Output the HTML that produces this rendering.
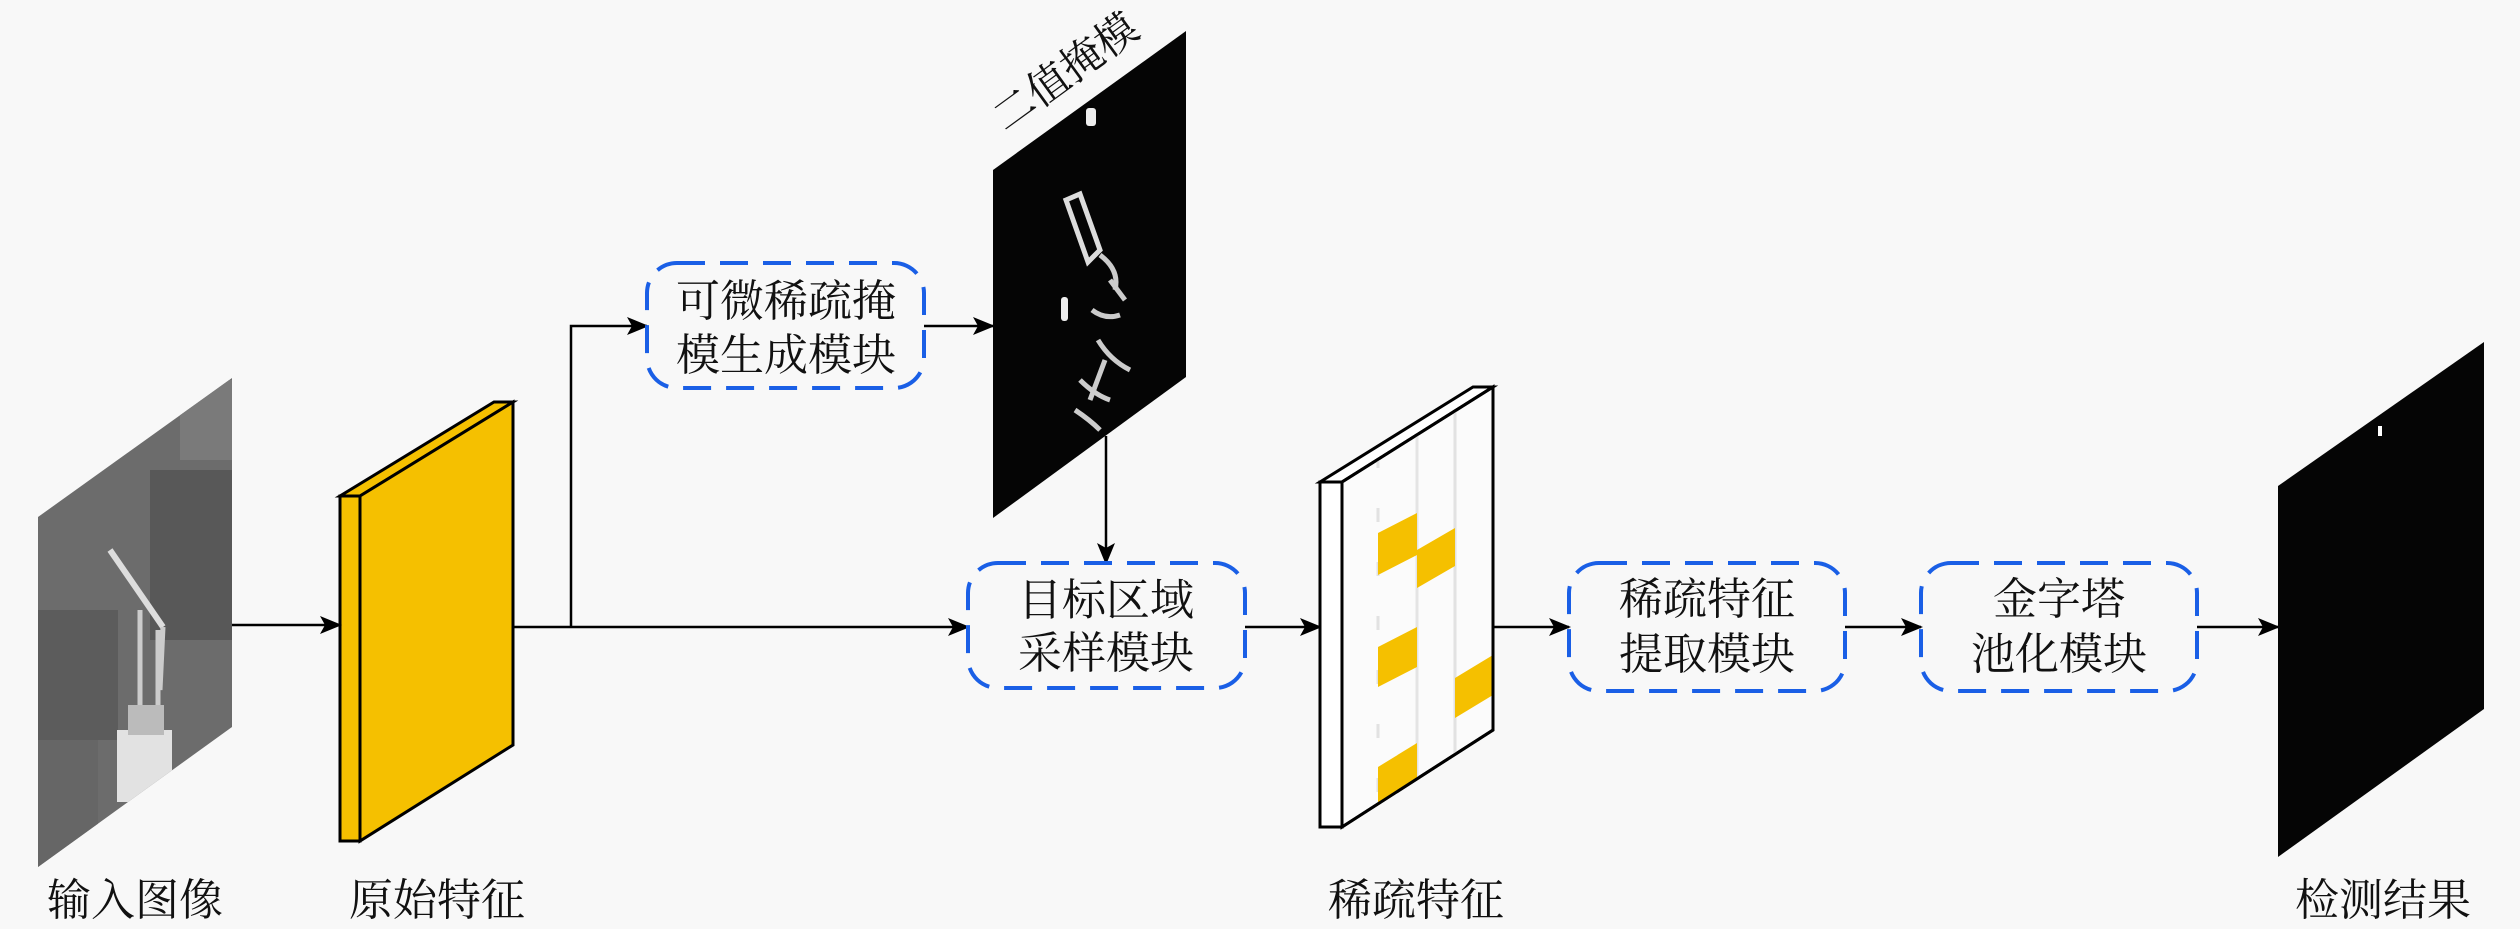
<!DOCTYPE html>
<html><head><meta charset="utf-8"><style>
html,body{margin:0;padding:0;background:#f8f8f8;}
svg{display:block;}
text{font-family:"Liberation Serif","Noto Serif CJK SC","Noto Sans CJK SC",serif;fill:#111;}
</style></head><body>
<svg width="2520" height="929" viewBox="0 0 2520 929" xmlns="http://www.w3.org/2000/svg">
<defs>
<marker id="ar" markerWidth="22" markerHeight="18" refX="20" refY="9" orient="auto" markerUnits="userSpaceOnUse">
<path d="M0,0 L22,9 L0,18 L5,9 Z" fill="#000"/>
</marker>
<clipPath id="cin"><polygon points="38,517 232,378 232,727 38,867"/></clipPath>
<clipPath id="cmask"><polygon points="993,170 1186,31 1186,377 993,518"/></clipPath>
<clipPath id="csp"><polygon points="1342,482 1493,387 1493,730 1342,827"/></clipPath>
</defs>
<rect width="2520" height="929" fill="#f8f8f8"/>

<!-- input image -->
<g clip-path="url(#cin)">
<rect x="30" y="370" width="210" height="510" fill="#6c6c6c"/>
<rect x="150" y="470" width="90" height="170" fill="#585858"/>
<rect x="38" y="610" width="80" height="130" fill="#5c5c5c"/>
<rect x="38" y="740" width="60" height="140" fill="#666"/>
<rect x="180" y="380" width="60" height="80" fill="#7a7a7a"/>
<path d="M110,550 L163,627" stroke="#ddd" stroke-width="6"/>
<path d="M140,610 L140,720 M158,630 L158,710 M163,627 L160,690" stroke="#ccc" stroke-width="5"/>
<rect x="117" y="730" width="55" height="72" fill="#e2e2e2"/>
<rect x="128" y="705" width="36" height="30" fill="#bbb"/>
</g>

<!-- orange feature -->
<polygon points="340,496 360,496 513,402 494,402" fill="#f5c000" stroke="#000" stroke-width="3"/>
<polygon points="360,496 513,402 513,745 360,841" fill="#f5c000" stroke="#000" stroke-width="3"/>
<rect x="340" y="496" width="20" height="345" fill="#f5c000" stroke="#000" stroke-width="3"/>

<!-- connectors -->
<line x1="232" y1="625" x2="340" y2="625" stroke="#000" stroke-width="2.5" marker-end="url(#ar)"/>
<line x1="513" y1="627" x2="968" y2="627" stroke="#000" stroke-width="2.5" marker-end="url(#ar)"/>
<polyline points="571,627 571,326 647,326" fill="none" stroke="#000" stroke-width="2.5" marker-end="url(#ar)"/>
<line x1="924" y1="326" x2="993" y2="326" stroke="#000" stroke-width="2.5" marker-end="url(#ar)"/>
<line x1="1106" y1="436" x2="1106" y2="563" stroke="#000" stroke-width="2.5" marker-end="url(#ar)"/>
<line x1="1245" y1="627" x2="1320" y2="627" stroke="#000" stroke-width="2.5" marker-end="url(#ar)"/>
<line x1="1493" y1="627" x2="1569" y2="627" stroke="#000" stroke-width="2.5" marker-end="url(#ar)"/>
<line x1="1845" y1="627" x2="1921" y2="627" stroke="#000" stroke-width="2.5" marker-end="url(#ar)"/>
<line x1="2197" y1="627" x2="2278" y2="627" stroke="#000" stroke-width="2.5" marker-end="url(#ar)"/>

<!-- mask -->
<polygon points="993,170 1186,31 1186,377 993,518" fill="#050505"/>
<g clip-path="url(#cmask)" fill="#eee">
<rect x="1086" y="108" width="10" height="18" rx="3"/>
<rect x="1061" y="297" width="7" height="24" rx="3"/>
<path d="M1066,200 L1080,194 L1100,250 L1088,262 Z" fill="none" stroke="#ddd" stroke-width="5"/>
<g stroke="#ccc" stroke-width="5" fill="none">
<path d="M1100,255 Q1120,270 1115,290 M1092,310 Q1105,320 1120,315 M1098,340 Q1110,360 1130,370 M1080,380 Q1095,395 1110,400 M1075,410 Q1090,420 1100,430"/>
<path d="M1110,280 L1125,300 M1105,360 L1090,400"/>
</g>
</g>
<text transform="translate(1068,76) rotate(-36)" font-size="42" text-anchor="middle" dominant-baseline="middle">二值掩模</text>

<!-- sparse feature -->
<polygon points="1320,482 1342,482 1493,387 1473,387" fill="#fff" stroke="#000" stroke-width="3"/>
<polygon points="1342,482 1493,387 1493,730 1342,827" fill="#fbfbfb" stroke="#000" stroke-width="3"/>
<g clip-path="url(#csp)">
<line x1="1378" y1="400" x2="1378" y2="830" stroke="#e2e2e2" stroke-width="3" stroke-dasharray="14,40"/>
<line x1="1417" y1="400" x2="1417" y2="830" stroke="#e4e4e4" stroke-width="3"/>
<line x1="1455" y1="400" x2="1455" y2="830" stroke="#e2e2e2" stroke-width="3"/>
<g fill="#f5c000">
<polygon points="1378,533 1417,513 1417,555 1378,575"/>
<polygon points="1417,550 1455,528 1455,566 1417,588"/>
<polygon points="1378,647 1417,627 1417,667 1378,687"/>
<polygon points="1455,678 1493,655 1493,695 1455,718"/>
<polygon points="1378,767 1417,743 1417,800 1378,830"/>
</g>
</g>
<polygon points="1342,482 1493,387 1493,730 1342,827" fill="none" stroke="#000" stroke-width="3"/>
<rect x="1320" y="482" width="22" height="345" fill="#fff" stroke="#000" stroke-width="3"/>

<!-- result -->
<polygon points="2278,486 2484,342 2484,709 2278,857" fill="#050505"/>
<rect x="2378" y="426" width="4" height="10" fill="#fff"/>

<!-- dashed boxes -->
<g fill="none" stroke="#1a5fe6" stroke-width="4" stroke-dasharray="28,15">
<rect x="647" y="263" width="277" height="125" rx="30"/>
<rect x="968" y="563" width="277" height="125" rx="30"/>
<rect x="1569" y="563" width="276" height="128" rx="30"/>
<rect x="1921" y="563" width="276" height="128" rx="30"/>
</g>
<g font-size="44" text-anchor="middle">
<text x="786" y="316">可微稀疏掩</text>
<text x="786" y="370">模生成模块</text>
<text x="1106" y="615">目标区域</text>
<text x="1106" y="668">采样模块</text>
<text x="1707" y="614">稀疏特征</text>
<text x="1707" y="669">提取模块</text>
<text x="2059" y="614">金字塔</text>
<text x="2059" y="669">池化模块</text>
<text x="135" y="915">输入图像</text>
<text x="437" y="915">原始特征</text>
<text x="1416" y="915">稀疏特征</text>
<text x="2383" y="915">检测结果</text>
</g>
</svg>
</body></html>
